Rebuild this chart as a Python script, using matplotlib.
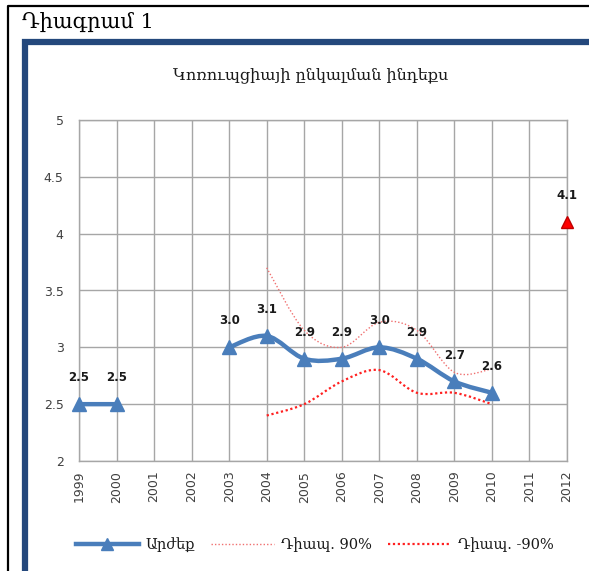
import matplotlib.pyplot as plt
from matplotlib.path import Path
from matplotlib.patches import PathPatch, Rectangle
from matplotlib.lines import Line2D

# Տվյալներ
years = ['1999', '2000', '2001', '2002', '2003', '2004', '2005',
         '2006', '2007', '2008', '2009', '2010', '2011', '2012']
value = [2.5, 2.5, None, None, 3.0, 3.1, 2.9, 2.9, 3.0, 2.9, 2.7, 2.6, None, None]
upper = [None, None, None, None, None, 3.7, 3.15, 3.0, 3.22, 3.15, 2.78, 2.81, None, None]
lower = [None, None, None, None, None, 2.4, 2.5, 2.7, 2.8, 2.6, 2.6, 2.5, None, None]
target_year = '2012'
target_value = 4.1

BLUE = '#4A7EBB'
FRAME = '#24487C'
GRID = '#A6A6A6'
SERIF = ['DejaVu Serif']


def segments(vals):
    # բաժանում ենք շարքը անընդհատ հատվածների
    segs, cur = [], []
    for i, v in enumerate(vals):
        if v is None:
            if cur:
                segs.append(cur)
            cur = []
        else:
            cur.append((i, v))
    if cur:
        segs.append(cur)
    return segs


def smooth_path(pts):
    # Excel-ի նման հարթեցված գիծ (Catmull-Rom -> Bezier)
    verts = [pts[0]]
    codes = [Path.MOVETO]
    for i in range(len(pts) - 1):
        p0 = pts[i - 1] if i > 0 else pts[i]
        p1 = pts[i]
        p2 = pts[i + 1]
        p3 = pts[i + 2] if i + 2 < len(pts) else p2
        c1 = (p1[0] + (p2[0] - p0[0]) / 6, p1[1] + (p2[1] - p0[1]) / 6)
        c2 = (p2[0] - (p3[0] - p1[0]) / 6, p2[1] - (p3[1] - p1[1]) / 6)
        verts += [c1, c2, p2]
        codes += [Path.CURVE4] * 3
    return Path(verts, codes)


fig = plt.figure(figsize=(5.89, 5.71), dpi=100)
ax = fig.add_axes([79 / 589, 1 - 461 / 571, 488 / 589, 341 / 571])

# միջակայքի գծեր
for seg in segments(upper):
    ax.add_patch(PathPatch(smooth_path(seg), fill=False, edgecolor='#F07070',
                           lw=1.0, linestyle=(0, (1, 1.5)), zorder=3))
for seg in segments(lower):
    ax.add_patch(PathPatch(smooth_path(seg), fill=False, edgecolor='#FF2020',
                           lw=1.6, linestyle=(0, (1, 1.2)), zorder=3))

# հիմնական շարք
for seg in segments(value):
    ax.add_patch(PathPatch(smooth_path(seg), fill=False, edgecolor=BLUE,
                           lw=3.2, capstyle='round', zorder=4))
xs = [i for i, v in enumerate(value) if v is not None]
ys = [v for v in value if v is not None]
ax.plot(xs, ys, linestyle='none', marker='^', markersize=10, color=BLUE,
        zorder=5, clip_on=False)
for x, y in zip(xs, ys):
    ax.annotate(f'{y:.1f}', (x, y), xytext=(0, 19), textcoords='offset points',
                ha='center', va='center', fontsize=8.5, fontweight='bold', color='#1a1a1a')

ti = years.index(target_year)
ax.plot([ti], [target_value], linestyle='none', marker='^', markersize=8,
        color='#FF0000', markeredgecolor='#C00000', zorder=5, clip_on=False)
ax.annotate(f'{target_value:.1f}', (ti, target_value), xytext=(0, 19),
            textcoords='offset points', ha='center', va='center',
            fontsize=8.5, fontweight='bold', color='#1a1a1a')

ax.set_xlim(0, len(years) - 1)
ax.set_ylim(2, 5)
ax.set_xticks(range(len(years)))
ax.set_xticklabels(years, rotation=90)
ax.set_yticks([2, 2.5, 3, 3.5, 4, 4.5, 5])
ax.set_yticklabels(['2', '2.5', '3', '3.5', '4', '4.5', '5'])
ax.tick_params(axis='both', length=0, labelsize=9, colors='#404040')
ax.tick_params(axis='y', pad=11)
ax.tick_params(axis='x', pad=7)
ax.grid(True, color=GRID, lw=1)
for s in ax.spines.values():
    s.set_color(GRID)
    s.set_linewidth(1)
ax.set_axisbelow(True)

# վերնագրեր
fig.text(22 / 589, 1 - 22 / 571, 'Դիագրամ 1', family=SERIF,
         fontsize=15, ha='left', va='center', color='black')
fig.text(311 / 589, 1 - 75 / 571, 'Կոռուպցիայի ընկալման ինդեքս',
         family=SERIF, fontsize=11.5, ha='center', va='center', color='#1a1a1a')

# շրջանակներ
fig.add_artist(Line2D([8 / 589, 8 / 589, 1.0], [0, 1 - 6 / 571, 1 - 6 / 571],
                      transform=fig.transFigure, color='black', lw=1.6))
fig.add_artist(Rectangle((25 / 589, -0.05), 0.99, 1 - 42 / 571 + 0.05,
                         transform=fig.transFigure, fill=False,
                         edgecolor=FRAME, lw=4.5))

# լեգենդ
handles = [
    Line2D([], [], color=BLUE, lw=3.2, marker='^', markersize=8),
    Line2D([], [], color='#F07070', lw=1.0, linestyle=(0, (1, 1.5))),
    Line2D([], [], color='#FF2020', lw=1.6, linestyle=(0, (1, 1.2))),
]
labels = ['Արժեք', 'Դիապ. 90%', 'Դիապ. -90%']
fig.legend(handles, labels, loc='center', bbox_to_anchor=(315 / 589, 1 - 545 / 571),
           ncol=3, frameon=False, handlelength=4.3, columnspacing=1.1,
           handletextpad=0.5, prop={'family': SERIF, 'size': 10.5}, labelcolor='#1a1a1a')

fig.savefig('out.png', dpi=100)
